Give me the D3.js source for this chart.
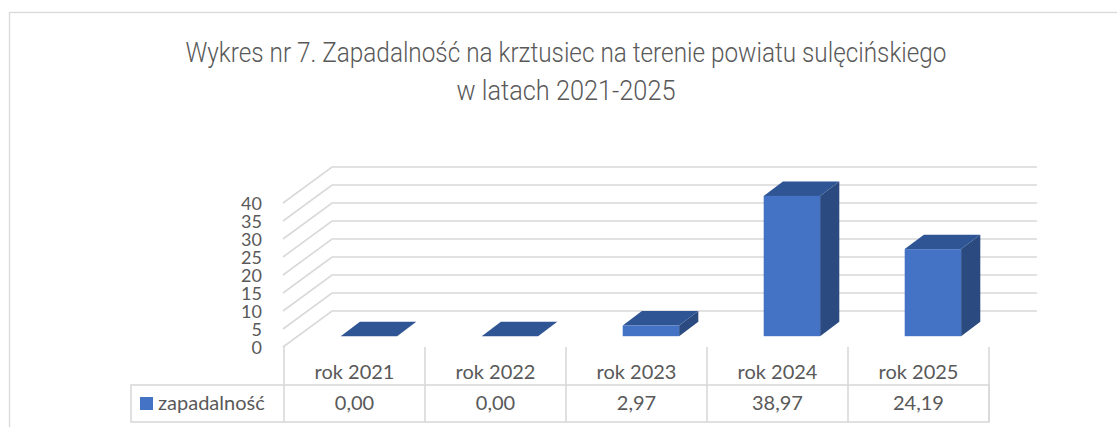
<!DOCTYPE html>
<html>
<head>
<meta charset="utf-8">
<script src="https://cdn.jsdelivr.net/npm/d3@7"></script>
<style>
  body { margin: 0; background: #fff; }
  svg { display: block; }
</style>
</head>
<body>
<div class="chart"></div>
<script>
// Chart data
var titleLines = ["Wykres nr 7. Zapadalność na krztusiec na terenie powiatu sulęcińskiego",
                  "w latach 2021-2025"];
var categories = ["rok 2021", "rok 2022", "rok 2023", "rok 2024", "rok 2025"];
var values = [0, 0, 2.97, 38.97, 24.19];
var seriesName = "zapadalność";
var yTicks = [0, 5, 10, 15, 20, 25, 30, 35, 40];

// Layout
var svg_width = 1117;
var svg_height = 427;
var depth_dx = 48, depth_dy = -36;   // oblique offset from front to back wall
var bar_front = 0.3, bar_back = 0.7;  // bar position in depth
var grid_color = "#d9d9d9";
var text_color = "#595959";
var font = "Lato, 'Liberation Sans', sans-serif";

var svg = d3.select(".chart").append("svg")
  .attr("width", svg_width)
  .attr("height", svg_height);

svg.append("rect")
  .attr("width", svg_width).attr("height", svg_height)
  .attr("fill", "#fff");

// chart border (runs off the right and bottom of the picture)
svg.append("rect")
  .attr("x", 9.5).attr("y", 12.5)
  .attr("width", 1300).attr("height", 600)
  .attr("fill", "none")
  .attr("stroke", grid_color)
  .attr("stroke-width", 1.3);

var x = d3.scaleBand().domain(categories).range([284, 989]);
var y = d3.scaleLinear().domain([0, 40]).range([347, 203]);
var x0 = x.range()[0], x1 = x.range()[1];

// Title
svg.selectAll("text.title")
  .data(titleLines)
  .enter()
  .append("text")
  .attr("class", "title")
  .text(function(d) { return d; })
  .attr("x", 566)
  .attr("y", function(d, i) { return 62 + i * 38; })
  .attr("text-anchor", "middle")
  .attr("textLength", function(d, i) { return i == 0 ? 761 : 219; })
  .attr("lengthAdjust", "spacingAndGlyphs")
  .attr("font-family", "Roboto, 'Liberation Sans Narrow', sans-serif")
  .attr("font-weight", 300)
  .attr("font-size", "28px")
  .attr("fill", text_color);

// Gridlines: side wall diagonal + back wall
svg.selectAll("polyline.grid")
  .data(yTicks)
  .enter()
  .append("polyline")
  .attr("class", "grid")
  .attr("points", function(d) {
    var yf = y(d);
    return [[x0 - 1, yf], [x0 + depth_dx, yf + depth_dy], [x1 + depth_dx, yf + depth_dy]].join(" ");
  })
  .attr("fill", "none")
  .attr("stroke", grid_color)
  .attr("stroke-width", 1.6);

// Value axis labels
svg.selectAll("text.ytick")
  .data(yTicks)
  .enter()
  .append("text")
  .attr("class", "ytick")
  .text(function(d) { return d; })
  .attr("x", 262)
  .attr("y", function(d) { return y(d) + 6.5; })
  .attr("text-anchor", "end")
  .attr("font-family", font)
  .attr("font-size", "18px")
  .attr("fill", text_color);

// Bars (3D boxes)
var bw = x.bandwidth() * 0.4;
var fdx = depth_dx * bar_front, fdy = depth_dy * bar_front;
var sdx = depth_dx * (bar_back - bar_front), sdy = depth_dy * (bar_back - bar_front);

var bars = svg.selectAll("g.bar")
  .data(values)
  .enter()
  .append("g")
  .attr("class", "bar");

function barLeft(d, i) { return x(categories[i]) + (x.bandwidth() - bw) / 2 + fdx; }
function barTop(d) { return y(d) + fdy; }
function barBottom() { return y(0) + fdy; }

// side face
bars.append("polygon")
  .attr("points", function(d, i) {
    var l = barLeft(d, i) + bw;
    return [[l, barTop(d)], [l + sdx, barTop(d) + sdy], [l + sdx, barBottom() + sdy], [l, barBottom()]].join(" ");
  })
  .attr("fill", "#2a4a80");

// top face
bars.append("polygon")
  .attr("points", function(d, i) {
    var l = barLeft(d, i);
    return [[l, barTop(d)], [l + sdx, barTop(d) + sdy], [l + bw + sdx, barTop(d) + sdy], [l + bw, barTop(d)]].join(" ");
  })
  .attr("fill", "#305594");

// front face
bars.append("rect")
  .attr("x", barLeft)
  .attr("y", barTop)
  .attr("width", bw)
  .attr("height", function(d) { return barBottom() - barTop(d); })
  .attr("fill", "#4472c4");

// Data table
var rowTop = 385, rowBottom = 422, tableLeft = 131;

svg.selectAll("line.colsep")
  .data(d3.range(categories.length + 1))
  .enter()
  .append("line")
  .attr("class", "colsep")
  .attr("x1", function(d) { return x0 + d * x.step(); })
  .attr("x2", function(d) { return x0 + d * x.step(); })
  .attr("y1", y(0))
  .attr("y2", rowBottom)
  .attr("stroke", grid_color)
  .attr("stroke-width", 1.6);

svg.append("rect")
  .attr("x", tableLeft).attr("y", rowTop)
  .attr("width", x1 - tableLeft).attr("height", rowBottom - rowTop)
  .attr("fill", "none")
  .attr("stroke", grid_color)
  .attr("stroke-width", 1.6);

svg.selectAll("text.cat")
  .data(categories)
  .enter()
  .append("text")
  .attr("class", "cat")
  .text(function(d) { return d; })
  .attr("x", function(d) { return x(d) + x.bandwidth() / 2; })
  .attr("y", 379)
  .attr("text-anchor", "middle")
  .attr("font-family", font)
  .attr("font-size", "20px")
  .attr("fill", text_color);

var fmt = d3.format(".2f");
svg.selectAll("text.val")
  .data(values)
  .enter()
  .append("text")
  .attr("class", "val")
  .text(function(d) { return fmt(d).replace(".", ","); })
  .attr("x", function(d, i) { return x(categories[i]) + x.bandwidth() / 2; })
  .attr("y", 410)
  .attr("text-anchor", "middle")
  .attr("font-family", font)
  .attr("font-size", "20px")
  .attr("fill", text_color);

// legend key in table
svg.append("rect")
  .attr("x", 140).attr("y", 397)
  .attr("width", 13).attr("height", 13)
  .attr("fill", "#4472c4");

svg.append("text")
  .text(seriesName)
  .attr("x", 158)
  .attr("y", 410)
  .attr("font-family", font)
  .attr("font-size", "20px")
  .attr("fill", text_color);
</script>
</body>
</html>
